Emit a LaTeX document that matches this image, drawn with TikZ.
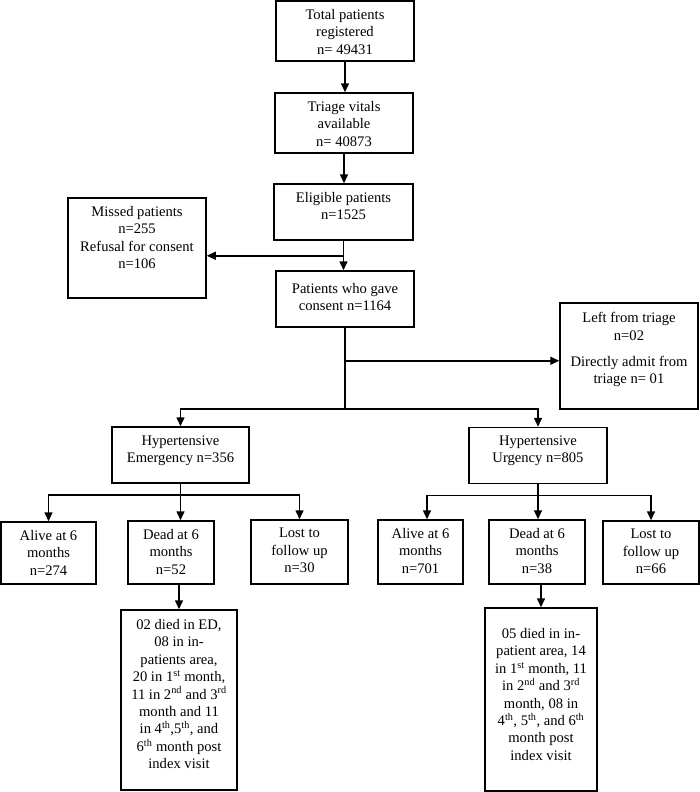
\documentclass[tikz,border=0pt]{standalone}
\usepackage{fontspec}
\setmainfont{Liberation Serif}
\usetikzlibrary{arrows.meta}

\begin{document}
\begin{tikzpicture}[x=1pt,y=-1pt,line width=1.5pt,
    every node/.style={font=\fontsize{14.6}{17.4}\selectfont},
    box/.style={draw,line width=1.5pt,inner sep=0pt},
    txt/.style={anchor=north,align=center,inner sep=0pt,yshift=-8.4pt},
    arr/.style={-{Triangle[length=9pt,width=8pt]}}]
    \useasboundingbox (0,0) rectangle (700,792);
    % main column
    \node[box,minimum width=138,minimum height=60,
        label={[txt]north:{Total patients\\registered\\n= 49431}}] (total) at (345,31) {};
    \node[box,minimum width=138,minimum height=60,
        label={[txt]north:{Triage vitals\\available\\n= 40873}}] (triage) at (344,123) {};
    \node[box,minimum width=139,minimum height=56,
        label={[txt]north:{Eligible patients\\n=1525}}] (elig) at (343.5,212) {};
    \node[box,minimum width=138,minimum height=100,
        label={[txt]north:{Missed patients\\n=255\\Refusal for consent\\n=106}}] (missed) at (137,248) {};
    \node[box,minimum width=138,minimum height=56,
        label={[txt,yshift=-4pt]north:{Patients who gave\\consent n=1164}}] (consent) at (345,299) {};
    \node[box,minimum width=138,minimum height=106,
        label={[txt,yshift=-1pt]north:{Left from triage\\n=02\\[9pt]Directly admit from\\triage n= 01}}] (left) at (629,356) {};
    % two groups
    \node[box,minimum width=137,minimum height=56,
        label={[txt]north:{Hypertensive\\Emergency n=356}}] (emerg) at (180.5,455) {};
    \node[box,minimum width=138,minimum height=56,
        label={[txt]north:{Hypertensive\\Urgency n=805}}] (urg) at (538,455.5) {};
    % outcomes, emergency
    \node[box,minimum width=95,minimum height=62,
        label={[txt]north:{Alive at 6\\months\\n=274}}] (aliveE) at (48.5,553) {};
    \node[box,minimum width=86,minimum height=63,
        label={[txt]north:{Dead at 6\\months\\n=52}}] (deadE) at (171,552.5) {};
    \node[box,minimum width=97,minimum height=64,
        label={[txt]north:{Lost to\\follow up\\n=30}}] (lostE) at (299.5,552) {};
    \node[box,minimum width=116,minimum height=180,
        label={[txt,yshift=-1pt]north:{02 died in ED,\\08 in in-\\patients area,\\20 in 1\textsuperscript{st} month,\\11 in 2\textsuperscript{nd} and 3\textsuperscript{rd}\\month and 11\\in 4\textsuperscript{th},5\textsuperscript{th}, and\\6\textsuperscript{th} month post\\index visit}}] (detE) at (179,700) {};
    % outcomes, urgency
    \node[box,minimum width=85,minimum height=64,
        label={[txt]north:{Alive at 6\\months\\n=701}}] (aliveU) at (420.5,552) {};
    \node[box,minimum width=96,minimum height=64,
        label={[txt]north:{Dead at 6\\months\\n=38}}] (deadU) at (537,552) {};
    \node[box,minimum width=96,minimum height=63,
        label={[txt]north:{Lost to\\follow up\\n=66}}] (lostU) at (651,552.5) {};
    \node[box,minimum width=112,minimum height=183,
        label={[txt,yshift=-12pt]north:{05 died in in-\\patient area, 14\\in 1\textsuperscript{st} month, 11\\in 2\textsuperscript{nd} and 3\textsuperscript{rd}\\month, 08 in\\4\textsuperscript{th}, 5\textsuperscript{th}, and 6\textsuperscript{th}\\month post\\index visit}}] (detU) at (541,699.5) {};

    \draw[arr] (total.south) -- (total.south |- triage.north);
    \draw[arr] (triage.south) -- (triage.south |- elig.north);
    \draw[arr] (elig.south) -- (elig.south |- consent.north);
    \path (elig.south) ++(0,15) coordinate (jm);
    \draw[arr] (jm) -- (jm -| missed.east);
    \path (consent.south) ++(0,33) coordinate (jr) ++(0,48) coordinate (jb);
    \draw (consent.south) -- (jb);
    \draw[arr] (jr) -- (jr -| left.west);
    \draw[arr] (jb) -| (emerg.north);
    \draw[arr] (jb) -| (urg.north);

    \path (emerg.south) ++(0,11) coordinate (je);
    \draw (emerg.south) -- (je);
    \draw[arr] (je) -| (aliveE.north);
    \draw[arr] (je) -- (je |- deadE.north);
    \draw[arr] (je) -| (lostE.north);
    \draw[arr] (detE.north |- deadE.south) -- (detE.north);

    \path (urg.south) ++(0,11) coordinate (ju);
    \draw (urg.south) -- (ju);
    \draw[arr] (ju) -| ([xshift=6.5pt]aliveU.north);
    \draw[arr] (ju) -- (ju |- deadU.north);
    \draw[arr] (ju) -| (lostU.north);
    \draw[arr] (detU.north |- deadU.south) -- (detU.north);
\end{tikzpicture}
\end{document}
